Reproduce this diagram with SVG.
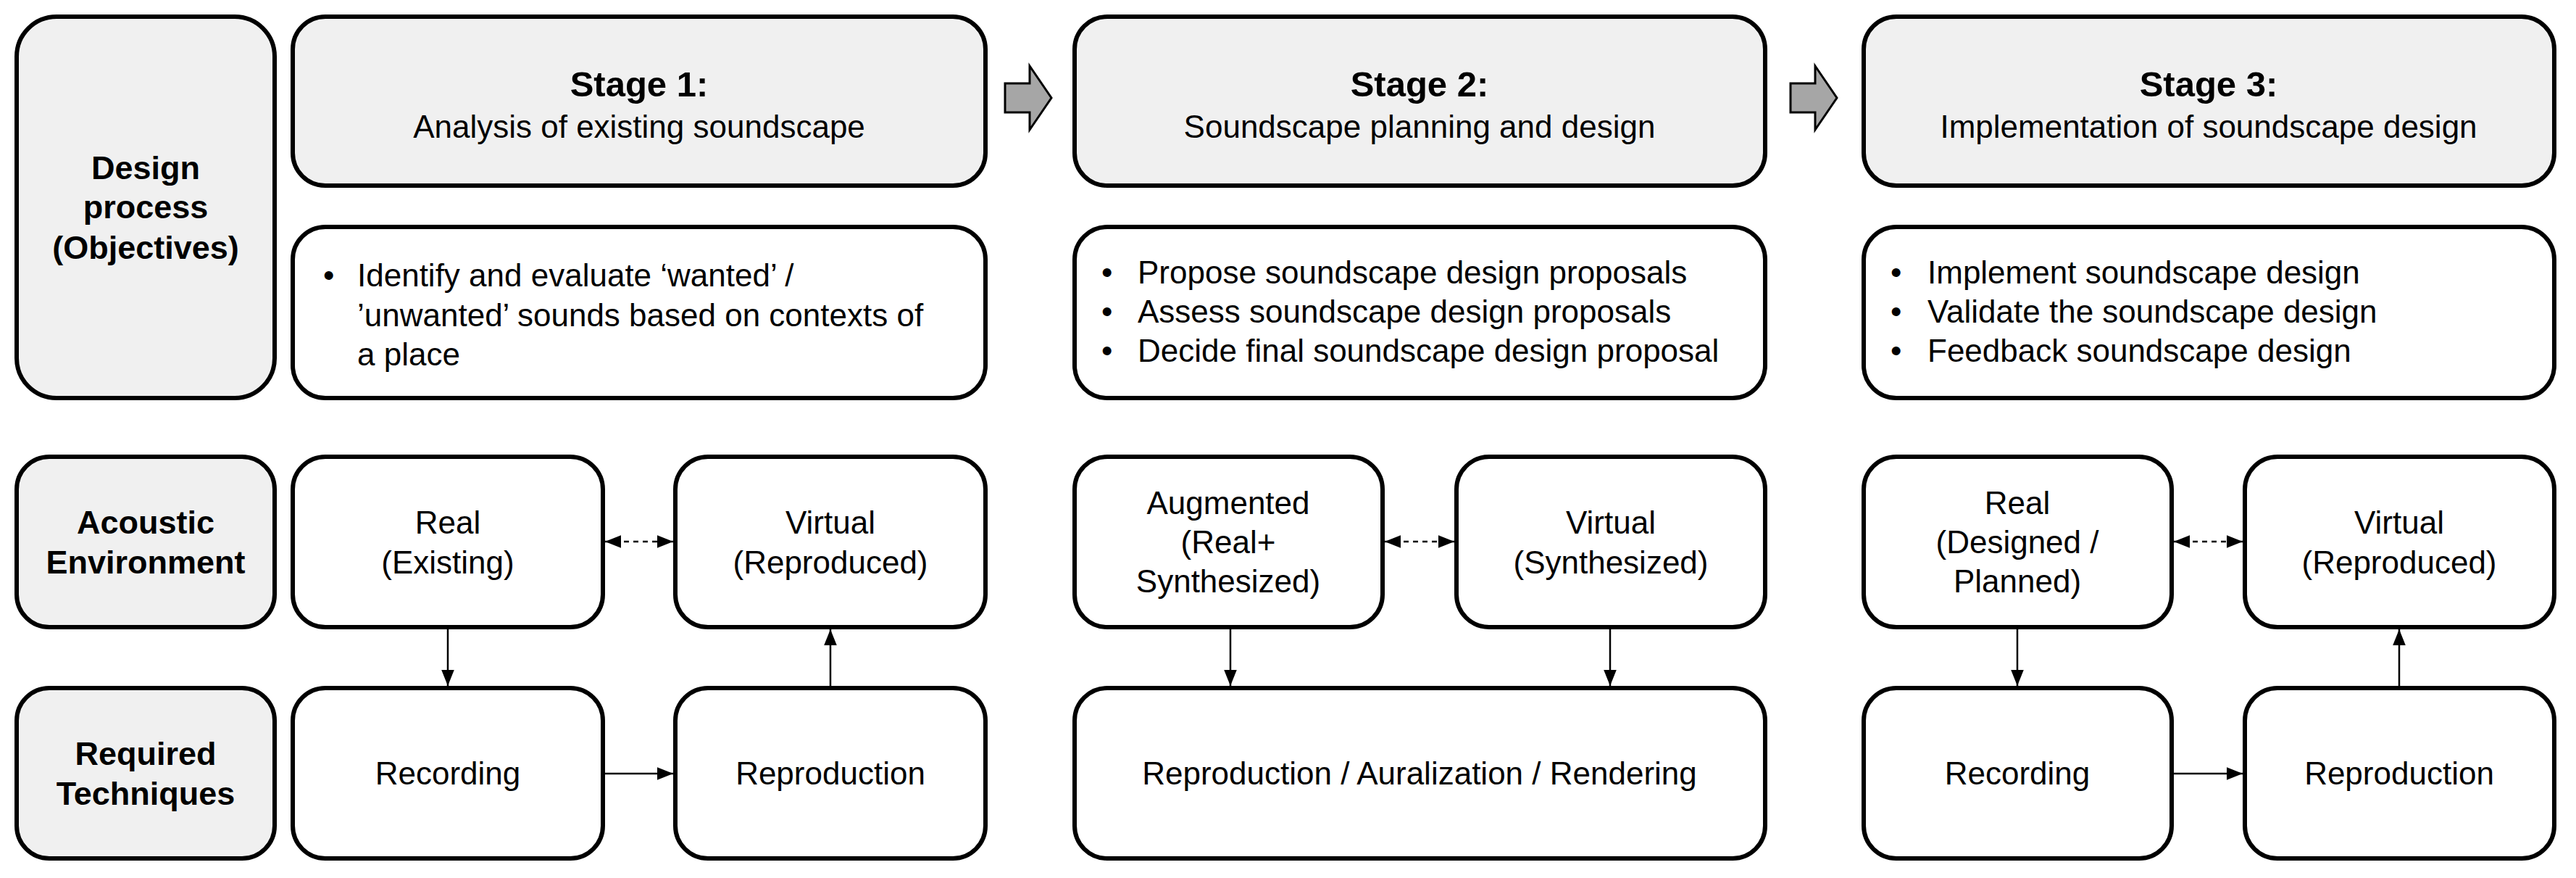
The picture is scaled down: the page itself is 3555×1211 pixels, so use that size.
<svg xmlns="http://www.w3.org/2000/svg" width="3555" height="1211" viewBox="0 0 3555 1211">
<style>
.b{fill:#fff;stroke:#000;stroke-width:6}
.g{fill:#f0f0f0;stroke:#000;stroke-width:6}
text{font-family:"Liberation Sans",Arial,sans-serif;font-size:44px;fill:#000}
.c{text-anchor:middle}
.h{font-weight:bold;font-size:49px}
.l{font-weight:bold;font-size:45px}
.k{stroke:#000;stroke-width:2.5;fill:none}
.d{stroke:#000;stroke-width:2.5;fill:none;stroke-dasharray:7 6}
</style>
<defs>
<marker id="m" viewBox="0 0 10 10" refX="10" refY="5" markerWidth="22" markerHeight="22" markerUnits="userSpaceOnUse" orient="auto-start-reverse"><path d="M0,1 L10,5 L0,9 z" fill="#000"/></marker>
</defs>
<g id="lbl-design"><rect class="g" x="23" y="23" width="356" height="526" rx="55"/><text class="c l" x="201" y="247">Design</text><text class="c l" x="201" y="301">process</text><text class="c l" x="201" y="357">(Objectives)</text></g>
<g id="lbl-acoustic"><rect class="g" x="23" y="630" width="356" height="235" rx="45"/><text class="c l" x="201" y="736">Acoustic</text><text class="c l" x="201" y="791">Environment</text></g>
<g id="lbl-tech"><rect class="g" x="23" y="949" width="356" height="235" rx="45"/><text class="c l" x="201" y="1055">Required</text><text class="c l" x="201" y="1110">Techniques</text></g>

<g id="s1-head"><rect class="g" x="404" y="23" width="956" height="233" rx="45"/><text class="c h" x="882" y="133">Stage 1:</text><text class="c" x="882" y="190">Analysis of existing soundscape</text></g>
<g id="s1-obj"><rect class="b" x="404" y="313" width="956" height="236" rx="45"/><text x="446" y="395">•</text><text x="493" y="395">Identify and evaluate ‘wanted’ /</text><text x="493" y="450">’unwanted’ sounds based on contexts of</text><text x="493" y="504">a place</text></g>
<g id="s1-real"><rect class="b" x="404" y="630" width="428" height="235" rx="45"/><text class="c" x="618" y="736">Real</text><text class="c" x="618" y="791">(Existing)</text></g>
<g id="s1-virt"><rect class="b" x="932" y="630" width="428" height="235" rx="45"/><text class="c" x="1146" y="736">Virtual</text><text class="c" x="1146" y="791">(Reproduced)</text></g>
<g id="s1-rec"><rect class="b" x="404" y="949" width="428" height="235" rx="45"/><text class="c" x="618" y="1082">Recording</text></g>
<g id="s1-rep"><rect class="b" x="932" y="949" width="428" height="235" rx="45"/><text class="c" x="1146" y="1082">Reproduction</text></g>

<g id="s2-head"><rect class="g" x="1483" y="23" width="953" height="233" rx="45"/><text class="c h" x="1959" y="133">Stage 2:</text><text class="c" x="1959" y="190">Soundscape planning and design</text></g>
<g id="s2-obj"><rect class="b" x="1483" y="313" width="953" height="236" rx="45"/><text x="1520" y="391">•</text><text x="1570" y="391">Propose soundscape design proposals</text><text x="1520" y="445">•</text><text x="1570" y="445">Assess soundscape design proposals</text><text x="1520" y="499">•</text><text x="1570" y="499">Decide final soundscape design proposal</text></g>
<g id="s2-aug"><rect class="b" x="1483" y="630" width="425" height="235" rx="45"/><text class="c" x="1695" y="709">Augmented</text><text class="c" x="1695" y="763">(Real+</text><text class="c" x="1695" y="817">Synthesized)</text></g>
<g id="s2-virt"><rect class="b" x="2010" y="630" width="426" height="235" rx="45"/><text class="c" x="2223" y="736">Virtual</text><text class="c" x="2223" y="791">(Synthesized)</text></g>
<g id="s2-rep"><rect class="b" x="1483" y="949" width="953" height="235" rx="45"/><text class="c" x="1959" y="1082">Reproduction / Auralization / Rendering</text></g>

<g id="s3-head"><rect class="g" x="2572" y="23" width="953" height="233" rx="45"/><text class="c h" x="3048" y="133">Stage 3:</text><text class="c" x="3048" y="190">Implementation of soundscape design</text></g>
<g id="s3-obj"><rect class="b" x="2572" y="313" width="953" height="236" rx="45"/><text x="2609" y="391">•</text><text x="2660" y="391">Implement soundscape design</text><text x="2609" y="445">•</text><text x="2660" y="445">Validate the soundscape design</text><text x="2609" y="499">•</text><text x="2660" y="499">Feedback soundscape design</text></g>
<g id="s3-real"><rect class="b" x="2572" y="630" width="425" height="235" rx="45"/><text class="c" x="2784" y="709">Real</text><text class="c" x="2784" y="763">(Designed /</text><text class="c" x="2784" y="817">Planned)</text></g>
<g id="s3-virt"><rect class="b" x="3098" y="630" width="427" height="235" rx="45"/><text class="c" x="3311" y="736">Virtual</text><text class="c" x="3311" y="791">(Reproduced)</text></g>
<g id="s3-rec"><rect class="b" x="2572" y="949" width="425" height="235" rx="45"/><text class="c" x="2784" y="1082">Recording</text></g>
<g id="s3-rep"><rect class="b" x="3098" y="949" width="427" height="235" rx="45"/><text class="c" x="3311" y="1082">Reproduction</text></g>

<g id="connectors">
<path d="M1387,115 H1421 V91 L1451,135 L1421,179 V155 H1387 Z" fill="#a6a6a6" stroke="#000" stroke-width="3"/>
<path d="M2471,115 H2505 V91 L2535,135 L2505,179 V155 H2471 Z" fill="#a6a6a6" stroke="#000" stroke-width="3"/>
<line class="d" x1="835" y1="747" x2="929" y2="747" marker-start="url(#m)" marker-end="url(#m)"/>
<line class="d" x1="1911" y1="747" x2="2007" y2="747" marker-start="url(#m)" marker-end="url(#m)"/>
<line class="d" x1="3000" y1="747" x2="3095" y2="747" marker-start="url(#m)" marker-end="url(#m)"/>
<line class="k" x1="618" y1="868" x2="618" y2="946" marker-end="url(#m)"/>
<line class="k" x1="1146" y1="946" x2="1146" y2="868" marker-end="url(#m)"/>
<line class="k" x1="835" y1="1067" x2="929" y2="1067" marker-end="url(#m)"/>
<line class="k" x1="1698" y1="868" x2="1698" y2="946" marker-end="url(#m)"/>
<line class="k" x1="2222" y1="868" x2="2222" y2="946" marker-end="url(#m)"/>
<line class="k" x1="2784" y1="868" x2="2784" y2="946" marker-end="url(#m)"/>
<line class="k" x1="3311" y1="946" x2="3311" y2="868" marker-end="url(#m)"/>
<line class="k" x1="3000" y1="1067" x2="3095" y2="1067" marker-end="url(#m)"/>
</g>
</svg>
